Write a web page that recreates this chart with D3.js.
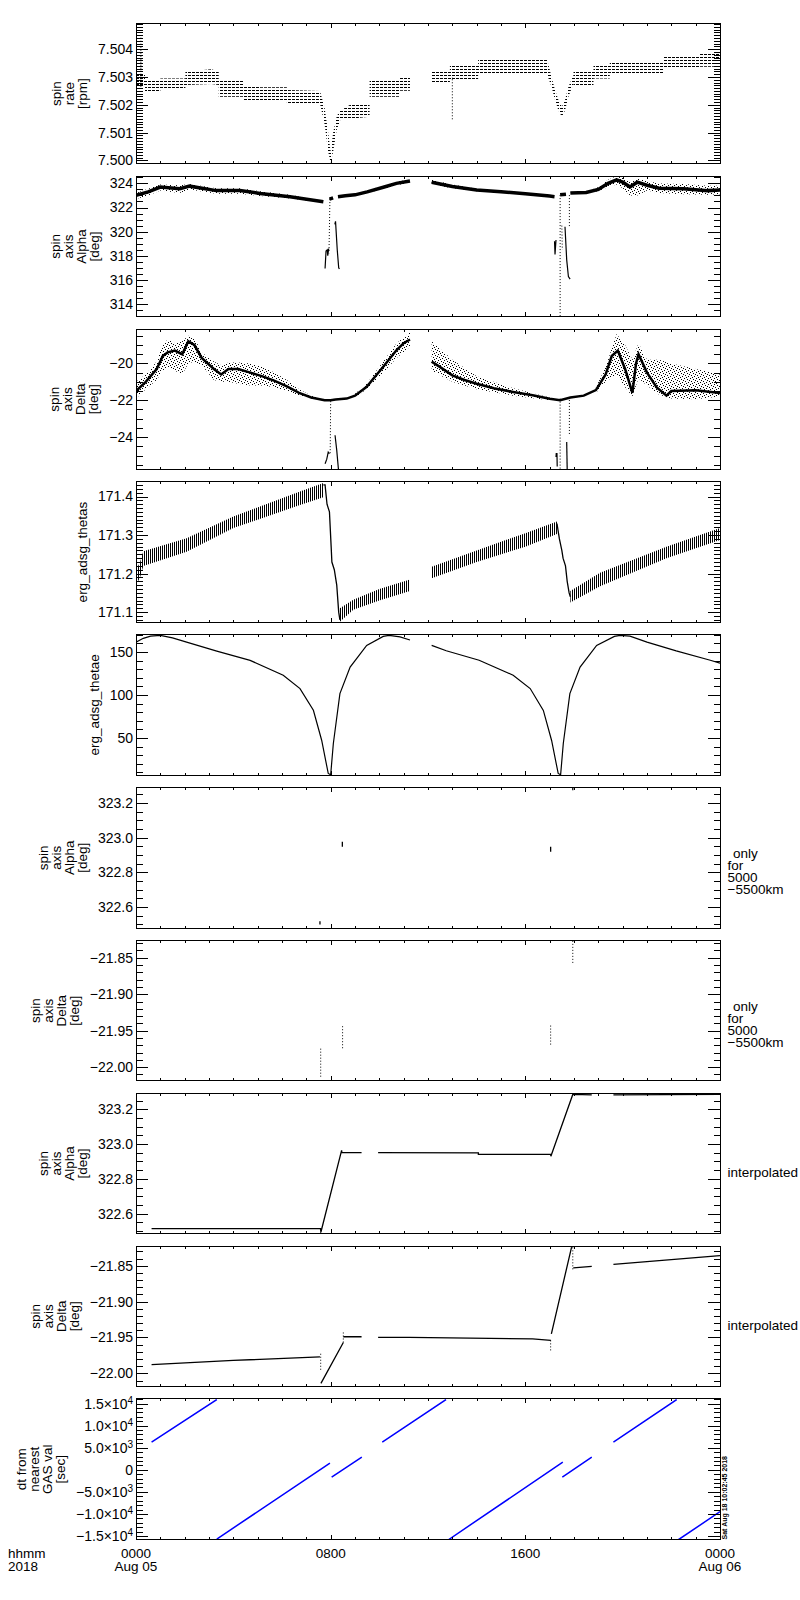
<!DOCTYPE html>
<html>
<head>
<meta charset="utf-8">
<script src="https://cdn.jsdelivr.net/npm/d3@7"></script>
<style>
body { margin: 0; background: #fff; }
</style>
</head>
<body>
<script>
// hours from 0000 Aug 05 2018
var hourTicks = d3.range(0, 25);
var majorHours = [0, 8, 16, 24];
var timeLabelTop = ["0000", "0800", "1600", "0000"];
var timeLabelBottom = ["Aug 05", "", "", "Aug 06"];

// panel 1: spin rate, quantized band [t, lo, hi]
var p1Ticks = [7.500, 7.501, 7.502, 7.503, 7.504];
var p1Band = [
  [0.03,7.50265,7.50307],[0.37,7.50265,7.50307],[0.37,7.50247,7.50289],[1.0,7.50247,7.50289],
  [1.0,7.50259,7.50295],[2.03,7.50259,7.50295],[2.03,7.50271,7.50319],[3.1,7.50275,7.50328],
  [3.4,7.50271,7.50319],[3.4,7.50229,7.50289],[4.4,7.50229,7.50289],[4.4,7.50217,7.50271],
  [5.1,7.50217,7.50271],[5.1,7.50217,7.50263],[6.2,7.50217,7.50263],[6.2,7.50205,7.50253],
  [7.56,7.50205,7.50250],[7.75,7.50130,7.50190],[7.9,7.50030,7.50100],[8.0,7.49992,7.50030],
  [8.1,7.50030,7.50100],[8.25,7.50110,7.50160],[8.4,7.50146,7.50180],[8.8,7.50150,7.50200],
  [9.6,7.50157,7.50200],[9.6,7.50229,7.50289],[10.85,7.50229,7.50289],[10.85,7.50251,7.50299],
  [11.26,7.50251,7.50299],[11.26,7.50296,7.50300],[12.15,7.50296,7.50300],[12.15,7.50277,7.50325],
  [12.9,7.50277,7.50325],[12.9,7.50289,7.50343],[14.06,7.50289,7.50343],[14.06,7.50307,7.50361],
  [16.9,7.50307,7.50361],[17.08,7.50264,7.50300],[17.22,7.50217,7.50253],[17.36,7.50180,7.50217],
  [17.5,7.50157,7.50193],[17.63,7.50180,7.50217],[17.77,7.50229,7.50265],[17.98,7.50277,7.50307],
  [17.98,7.50271,7.50319],[18.8,7.50271,7.50319],[18.8,7.50295,7.50343],[19.47,7.50295,7.50343],
  [19.47,7.50307,7.50355],[21.66,7.50307,7.50355],[21.66,7.50331,7.50372],[23.17,7.50331,7.50372],
  [23.17,7.50337,7.50385],[24,7.50337,7.50385]
];
var p1Spikes = [[0.2,7.50265,7.50450],[13.0,7.50148,7.50300]];

// panel 2: spin axis alpha [t, v] core, [t, lo, hi] scatter
var p2Ticks = [314, 316, 318, 320, 322, 324];
var p2Core = [
  [0.0,323.0],[0.5,323.3],[1.0,323.7],[1.8,323.55],[2.2,323.77],[3.3,323.4],[4.27,323.4],[5.1,323.17],
  [6.33,322.9],[7.7,322.48], null, [7.95,322.7],[8.1,322.8], null,
  [8.3,322.9],[8.6,322.98],[9.0,323.05],[9.5,323.3],[10.2,323.7],[10.7,324.0],[11.26,324.2], null,
  [12.15,324.1],[12.5,323.95],[13.0,323.75],[14.0,323.45],[15.0,323.3],[16.0,323.15],[17.0,322.95],[17.2,322.9], null,
  [17.43,323.05],[17.67,323.1], null,
  [17.85,323.2],[18.5,323.25],[19.0,323.5],[19.4,324.0],[19.75,324.3],[20.0,324.1],[20.3,323.7],[20.6,324.1],
  [21.0,323.85],[21.5,323.6],[22.5,323.55],[23.5,323.4],[24,323.45]
];
var p2Scatter = [
  [0.0,322.7,323.2],[0.5,323.0,323.55],[1.0,323.4,323.9],[1.8,323.2,323.85],[2.2,323.5,323.95],
  [3.3,323.15,323.6],[4.27,323.15,323.6],[5.1,322.95,323.35],[6.33,322.75,323.05],[7.7,322.42,322.52], null,
  [8.3,322.88,322.95],[9.0,323.0,323.1],[9.5,323.2,323.4],[10.2,323.55,323.85],[10.7,323.85,324.15],[11.26,324.05,324.3], null,
  [12.15,323.9,324.3],[13.0,323.6,323.9],[14.0,323.35,323.55],[15.0,323.22,323.38],[16.0,323.1,323.2],[17.2,322.88,322.92], null,
  [17.85,323.18,323.22],[18.5,323.2,323.3],[19.0,323.35,323.7],[19.4,323.7,324.3],[19.75,323.9,324.6],[20.0,323.6,324.45],
  [20.3,323.0,324.1],[20.6,323.0,324.4],[21.0,323.4,324.2],[21.5,323.2,324.0],[22.5,323.1,323.95],[23.5,323.05,323.8],[24,323.1,323.8]
];
var p2DipSolid = [
  [[7.77,316.95],[7.81,318.4],[7.86,318.5],[7.88,318.0],[7.92,318.6]],
  [[8.17,320.6],[8.2,320.85],[8.27,318.5],[8.33,317.0],[8.36,316.9]],
  [[17.2,319.2],[17.22,318.1],[17.26,319.3]],
  [[17.63,320.4],[17.7,317.66],[17.77,316.28],[17.84,316.06]]
];
var p2DipDotted = [
  [[7.97,322.7],[7.93,318.2]],
  [[17.43,323.03],[17.43,313.0]],
  [[17.81,323.03],[17.81,320.4]],
  [[17.5,320.5],[17.52,318.5]]
];

// panel 3: spin axis delta
var p3Ticks = [-24, -22, -20];
var p3Core = [
  [0.0,-21.5],[0.4,-21.0],[0.85,-20.3],[1.1,-19.6],[1.3,-19.4],[1.6,-19.3],[1.9,-19.5],[2.15,-18.8],[2.4,-19.0],
  [2.7,-19.7],[3.2,-20.3],[3.5,-20.6],[3.8,-20.3],[4.2,-20.3],[4.7,-20.5],[5.2,-20.7],[5.7,-20.95],[6.2,-21.25],
  [6.7,-21.6],[7.2,-21.85],[7.75,-22.0],[8.0,-22.0],[8.2,-21.96],[8.66,-21.91],[9.0,-21.75],[9.48,-21.27],
  [10.16,-20.18],[10.71,-19.27],[11.0,-18.9],[11.26,-18.7], null,
  [12.15,-19.9],[12.5,-20.2],[13.0,-20.65],[13.5,-20.9],[14.0,-21.1],[14.7,-21.35],[15.5,-21.55],[16.3,-21.73],
  [17.0,-21.92],[17.43,-22.0],[17.85,-21.85],[18.4,-21.75],[18.9,-21.45],[19.3,-20.6],[19.55,-19.6],[19.8,-19.3],
  [20.1,-20.3],[20.4,-21.6],[20.55,-20.0],[20.65,-19.5],[21.0,-20.5],[21.4,-21.3],[21.8,-21.75],[22.0,-21.5],
  [23.0,-21.45],[24.0,-21.6]
];
var p3Scatter = [
  [0.0,-21.9,-21.0],[0.4,-21.4,-20.6],[0.85,-20.9,-19.9],[1.1,-20.4,-19.0],[1.3,-20.2,-18.7],[1.6,-20.4,-18.9],
  [1.9,-20.6,-18.8],[2.15,-20.0,-18.5],[2.4,-19.9,-18.6],[2.7,-20.1,-19.4],[3.2,-20.9,-19.9],[3.5,-21.0,-20.1],
  [3.8,-21.0,-19.95],[4.2,-21.1,-19.95],[4.7,-21.2,-20.0],[5.2,-21.2,-20.2],[5.7,-21.3,-20.5],[6.2,-21.5,-20.9],
  [6.7,-21.75,-21.4],[7.2,-21.9,-21.75],[7.75,-22.05,-21.95], null,
  [9.0,-21.85,-21.65],[9.48,-21.4,-21.1],[10.16,-20.5,-19.9],[10.71,-19.7,-18.9],[11.26,-19.1,-18.3], null,
  [12.15,-20.4,-18.8],[13.0,-21.0,-19.8],[14.0,-21.4,-20.7],[15.5,-21.75,-21.35],[17.0,-22.0,-21.85], null,
  [18.9,-21.6,-21.3],[19.3,-21.0,-20.2],[19.75,-20.6,-18.4],[20.1,-21.3,-19.0],[20.4,-21.8,-19.8],[20.65,-20.8,-18.9],
  [21.0,-21.2,-19.8],[21.5,-21.7,-19.8],[22.0,-21.9,-20.0],[23.0,-21.95,-20.3],[24.0,-21.8,-20.6]
];
var p3DipSolid = [
  [[7.77,-25.45],[7.84,-25.2],[7.9,-24.82],[7.95,-24.9]],
  [[8.18,-23.9],[8.25,-24.72],[8.32,-25.76]],
  [[17.26,-25.08],[17.27,-24.9],[17.3,-24.9],[17.31,-25.6]],
  [[17.7,-24.27],[17.72,-25.76]]
];
var p3DipDotted = [
  [[8.0,-22.05],[7.98,-24.9]],
  [[17.43,-21.91],[17.43,-25.76]],
  [[17.81,-21.82],[17.81,-23.9]]
];

// panel 4: erg_adsg_thetas band [t, lo, hi] and drops
var p4Ticks = [171.1, 171.2, 171.3, 171.4];
var p4Band = [
  [0.0,171.195,171.235],[0.12,171.18,171.22],[0.3,171.22,171.258],[2.08,171.257,171.292],[4.0,171.318,171.348],
  [6.74,171.378,171.413],[7.7,171.398,171.435], null,
  [8.38,171.075,171.11],[8.93,171.106,171.132],[10.0,171.13,171.16],[11.26,171.155,171.185], null,
  [12.15,171.188,171.218],[14.0,171.23,171.26],[16.0,171.27,171.305],[17.3,171.303,171.335], null,
  [17.85,171.125,171.155],[19.07,171.167,171.202],[21.8,171.24,171.27],[24.0,171.287,171.318]
];
var p4Drops = [
  [[7.7,171.43],[7.77,171.43],[7.85,171.38],[7.95,171.36],[8.02,171.27],[8.05,171.23],[8.15,171.21],[8.25,171.17],[8.33,171.1],[8.38,171.08]],
  [[17.3,171.33],[17.4,171.29],[17.5,171.26],[17.55,171.24],[17.65,171.22],[17.72,171.18],[17.8,171.15],[17.85,171.14]]
];

// panel 5: erg_adsg_thetae
var p5Ticks = [50, 100, 150];
var p5Line = [
  [0.0,161.5],[0.3,166],[0.6,168.5],[1.0,169.4],[1.5,166.5],[2.08,161.6],[3.32,151.1],[4.69,140.3],[6.05,122.9],
  [6.74,107.4],[7.29,82.2],[7.63,47.3],[7.9,8.6],[8.0,7.0],[8.11,43.5],[8.38,101.6],[8.8,132.5],[9.48,157.8],
  [10.16,168.2],[10.4,169.4],[10.85,167.6],[11.26,164.0], null,
  [12.15,157.8],[12.75,151.5],[14.1,140.5],[15.5,123],[16.2,107.5],[16.74,82],[17.08,47],[17.35,8.6],[17.45,7.0],
  [17.56,43.5],[17.83,101.6],[18.25,132.5],[18.93,157.8],[19.66,168.2],[19.9,169.4],[20.3,168.5],[21.0,161.6],
  [22.2,151.3],[23.6,140.5],[24.0,137]
];

// panels 6,7: only for 5000-5500km [t, lo, hi]
var p6Ticks = [322.6, 322.8, 323.0, 323.2];
var p6Bits = [[7.56,322.499,322.518],[8.48,322.949,322.977],[17.04,322.92,322.949],[17.95,323.275,323.29]];
var p7Ticks = [-22.00, -21.95, -21.90, -21.85];
var p7Bits = [[7.59,-22.013,-21.972],[8.49,-21.974,-21.943],[17.04,-21.969,-21.942],[17.95,-21.857,-21.827]];

// panels 8,9: interpolated
var p8Line = [
  [0.64,322.514],[7.58,322.514],[7.6,322.495],[8.45,322.964],[8.46,322.951],[9.27,322.951], null,
  [9.95,322.951],[14.07,322.949],[14.07,322.941],[17.04,322.941],[17.05,322.93],[17.95,323.285],[18.73,323.283], null,
  [19.62,323.283],[24,323.285]
];
var p8Bits = [[7.59,322.49,322.52]];
var p9Line = [
  [0.64,-21.988],[4.0,-21.982],[7.56,-21.977], null,
  [7.6,-22.014],[8.52,-21.957], null, [8.52,-21.949],[9.27,-21.949], null,
  [9.95,-21.950],[11.23,-21.950],[13.73,-21.951],[16.3,-21.952],[17.05,-21.954], null,
  [17.07,-21.945],[17.9,-21.824], null, [17.97,-21.853],[18.73,-21.851], null,
  [19.62,-21.848],[24,-21.836]
];
var p9Bits = [[7.59,-21.995,-21.972],[8.52,-21.957,-21.943],[17.04,-21.968,-21.954],[17.95,-21.855,-21.824]];

// panel 10: dt from nearest GAS val [sec]
var p10Ticks = [-15000, -10000, -5000, 0, 5000, 10000, 15000];
var p10Mant = ["\u22121.5", "\u22121.0", "\u22125.0", "0", "5.0", "1.0", "1.5"];
var p10Exp = ["4", "4", "3", "", "3", "4", "4"];
var p10Line = [
  [0.64,6273],[3.32,15909], null, [3.32,-15682],[7.97,1500], null, [8.04,-1682],[9.28,2864], null,
  [10.12,6273],[12.74,15909], null, [12.84,-15840],[17.54,1727], null, [17.52,-1682],[18.73,2864], null,
  [19.62,6273],[22.22,15909], null, [22.29,-15840],[24,-9477]
];

var FONT = "'Liberation Sans', Arial, sans-serif";
var W = 800, H = 1600;
var left = 136, right = 720, top0 = 23.3, step = 152.85, ph = 140.5;

var svg = d3.select("body").append("svg")
  .attr("width", W).attr("height", H)
  .attr("font-family", FONT);
svg.append("rect").attr("width", W).attr("height", H).attr("fill", "#fff");

var defs = svg.append("defs");
var hd = defs.append("pattern").attr("id", "hdash").attr("patternUnits", "userSpaceOnUse")
  .attr("width", 4).attr("height", 3);
hd.append("rect").attr("width", 3).attr("height", 1).attr("fill", "#000");
var sp = defs.append("pattern").attr("id", "speckle").attr("patternUnits", "userSpaceOnUse")
  .attr("width", 6).attr("height", 6);
[[0,0],[3,1],[1,3],[4,4],[5,2],[2,5]].forEach(function(p){
  sp.append("rect").attr("x", p[0]).attr("y", p[1]).attr("width", 1).attr("height", 1).attr("fill", "#000");
});
var vh = defs.append("pattern").attr("id", "vhatch").attr("patternUnits", "userSpaceOnUse")
  .attr("width", 2).attr("height", 4);
vh.append("rect").attr("width", 1).attr("height", 4).attr("fill", "#000");

var x = d3.scaleLinear().domain([0, 24]).range([left, right]);

function lineOf(y){
  return d3.line().defined(function(d){ return d !== null; })
    .x(function(d){ return x(d[0]); }).y(function(d){ return y(d[1]); });
}
function areaOf(y){
  return d3.area().defined(function(d){ return d !== null; })
    .x(function(d){ return x(d[0]); })
    .y0(function(d){ return y(d[1]); }).y1(function(d){ return y(d[2]); });
}
function styleAxis(sel){
  sel.attr("font-family", FONT).attr("font-size", 14);
  sel.select(".domain").remove();
  sel.selectAll("line").attr("shape-rendering", "crispEdges");
}

// builds frame, ticks and title of one panel
function panel(i, domain, major, minorStep, fmt, title){
  var top = top0 + i * step, bottom = top + ph;
  var y = d3.scaleLinear().domain(domain).range([bottom, top]);
  var g = svg.append("g");
  var minor = d3.range(Math.ceil(domain[0] / minorStep - 1e-6), Math.floor(domain[1] / minorStep + 1e-6) + 1)
    .map(function(k){ return k * minorStep; });

  defs.append("clipPath").attr("id", "clip" + i).append("rect")
    .attr("x", left).attr("y", top).attr("width", right - left).attr("height", ph);
  var plot = g.append("g").attr("clip-path", "url(#clip" + i + ")");

  var la = g.append("g").attr("transform", "translate(" + left + ",0)")
    .call(d3.axisLeft(y).tickValues(major).tickSizeInner(-12).tickSizeOuter(0).tickPadding(3).tickFormat(fmt));
  styleAxis(la);
  var lm = g.append("g").attr("transform", "translate(" + left + ",0)")
    .call(d3.axisLeft(y).tickValues(minor).tickSizeInner(-6.5).tickSizeOuter(0).tickFormat(""));
  styleAxis(lm);
  var ra = g.append("g").attr("transform", "translate(" + right + ",0)")
    .call(d3.axisRight(y).tickValues(major).tickSizeInner(-12).tickSizeOuter(0).tickFormat(""));
  styleAxis(ra);
  var rm = g.append("g").attr("transform", "translate(" + right + ",0)")
    .call(d3.axisRight(y).tickValues(minor).tickSizeInner(-6.5).tickSizeOuter(0).tickFormat(""));
  styleAxis(rm);
  [[top, d3.axisTop], [bottom, d3.axisBottom]].forEach(function(a){
    var t1 = g.append("g").attr("transform", "translate(0," + a[0] + ")")
      .call(a[1](x).tickValues(hourTicks).tickSizeInner(-2.5).tickSizeOuter(0).tickFormat(""));
    styleAxis(t1);
    var t2 = g.append("g").attr("transform", "translate(0," + a[0] + ")")
      .call(a[1](x).tickValues(majorHours).tickSizeInner(-4.5).tickSizeOuter(0).tickFormat(""));
    styleAxis(t2);
  });
  g.append("rect").attr("x", left).attr("y", top).attr("width", right - left).attr("height", ph)
    .attr("fill", "none").attr("stroke", "#000").attr("stroke-width", 1).attr("shape-rendering", "crispEdges");

  return {g: g, plot: plot, y: y, top: top, bottom: bottom, mid: (top + bottom) / 2, leftAxis: la, title: title};
}

// stacked, rotated axis title just left of the tick labels
function addTitle(p){
  var bb = p.leftAxis.node().getBBox();
  var xr = left + bb.x - 11, n = p.title.length;
  p.title.forEach(function(s, j){
    p.g.append("text")
      .attr("transform", "translate(" + (xr - (n - 1 - j) * 13) + "," + p.mid + ") rotate(-90)")
      .attr("text-anchor", "middle").attr("font-size", 13.5).text(s);
  });
}

function drawBits(p, bits, dash, width){
  p.plot.selectAll(null).data(bits).enter().append("line")
    .attr("x1", function(d){ return x(d[0]); }).attr("x2", function(d){ return x(d[0]); })
    .attr("y1", function(d){ return p.y(d[1]); }).attr("y2", function(d){ return p.y(d[2]); })
    .attr("stroke", "#000").attr("stroke-width", width).attr("stroke-dasharray", dash);
}
function drawPolys(p, polys, width, dash){
  p.plot.selectAll(null).data(polys).enter().append("path")
    .attr("d", lineOf(p.y)).attr("fill", "none").attr("stroke", "#000")
    .attr("stroke-width", width).attr("stroke-dasharray", dash);
}
function rightNote(p, lines, dy){
  lines.forEach(function(s, j){
    p.g.append("text").attr("x", j === 0 && lines.length > 1 ? right + 13 : right + 7.5)
      .attr("y", p.mid + dy + j * 12).attr("font-size", 13.5).text(s);
  });
}

var fmtAlpha = d3.format(".1f"), fmtDelta = d3.format(".2f");

// 1 spin rate
var P1 = panel(0, [7.49988, 7.50493], p1Ticks, 0.0001, d3.format(".3f"), ["spin", "rate", "[rpm]"]);
P1.plot.append("path").datum(p1Band).attr("d", areaOf(P1.y)).attr("fill", "url(#hdash)");
drawBits(P1, p1Spikes, "1,2", 1);
addTitle(P1);

// 2 alpha
var P2 = panel(1, [312.95, 324.6], p2Ticks, 0.5, d3.format("d"), ["spin", "axis", "Alpha", "[deg]"]);
P2.plot.append("path").datum(p2Scatter).attr("d", areaOf(P2.y)).attr("fill", "url(#speckle)");
P2.plot.append("path").datum(p2Core).attr("d", lineOf(P2.y)).attr("fill", "none").attr("stroke", "#000").attr("stroke-width", 3.5);
drawPolys(P2, p2DipSolid, 1.2, null);
drawPolys(P2, p2DipDotted, 1, "1,2");
addTitle(P2);

// 3 delta
var P3 = panel(2, [-25.76, -18.13], p3Ticks, 0.5, d3.format("d"), ["spin", "axis", "Delta", "[deg]"]);
P3.plot.append("path").datum(p3Scatter).attr("d", areaOf(P3.y)).attr("fill", "url(#speckle)");
P3.plot.append("path").datum(p3Core).attr("d", lineOf(P3.y)).attr("fill", "none").attr("stroke", "#000").attr("stroke-width", 2.5);
drawPolys(P3, p3DipSolid, 1.2, null);
drawPolys(P3, p3DipDotted, 1, "1,2");
addTitle(P3);

// 4 thetas
var P4 = panel(3, [171.0736, 171.438], p4Ticks, 0.01, d3.format(".1f"), ["erg_adsg_thetas"]);
P4.plot.append("path").datum(p4Band).attr("d", areaOf(P4.y)).attr("fill", "url(#vhatch)");
drawPolys(P4, p4Drops, 1.3, null);
addTitle(P4);

// 5 thetae
var P5 = panel(4, [6.6, 170.2], p5Ticks, 10, d3.format("d"), ["erg_adsg_thetae"]);
P5.plot.append("path").datum(p5Line).attr("d", lineOf(P5.y)).attr("fill", "none").attr("stroke", "#000").attr("stroke-width", 1.2);
addTitle(P5);

// 6 alpha (5000-5500 km)
var P6 = panel(5, [322.479, 323.29], p6Ticks, 0.05, fmtAlpha, ["spin", "axis", "Alpha", "[deg]"]);
drawBits(P6, p6Bits, null, 1.3);
addTitle(P6);
rightNote(P6, ["only", "for", "5000", "\u22125500km"], 0);

// 7 delta (5000-5500 km)
var P7 = panel(6, [-22.0188, -21.8262], p7Ticks, 0.01, fmtDelta, ["spin", "axis", "Delta", "[deg]"]);
drawBits(P7, p7Bits, "1,2", 1);
addTitle(P7);
rightNote(P7, ["only", "for", "5000", "\u22125500km"], 0);

// 8 alpha interpolated
var P8 = panel(7, [322.485, 323.292], p6Ticks, 0.05, fmtAlpha, ["spin", "axis", "Alpha", "[deg]"]);
P8.plot.append("path").datum(p8Line).attr("d", lineOf(P8.y)).attr("fill", "none").attr("stroke", "#000").attr("stroke-width", 1.3);
drawBits(P8, p8Bits, "1,2", 1);
addTitle(P8);
rightNote(P8, ["interpolated"], 13.5);

// 9 delta interpolated
var P9 = panel(8, [-22.0185, -21.8226], p7Ticks, 0.01, fmtDelta, ["spin", "axis", "Delta", "[deg]"]);
P9.plot.append("path").datum(p9Line).attr("d", lineOf(P9.y)).attr("fill", "none").attr("stroke", "#000").attr("stroke-width", 1.3);
drawBits(P9, p9Bits, "1,2", 1);
addTitle(P9);
rightNote(P9, ["interpolated"], 13.5);

// 10 dt from nearest GAS val
var P10 = panel(9, [-15773, 16045], p10Ticks, 1000, function(){ return ""; }, ["dt from", "nearest", "GAS val", "[sec]"]);
P10.leftAxis.selectAll(".tick text").each(function(d, k){
  var t = d3.select(this);
  t.append("tspan").text(p10Mant[k] + (p10Exp[k] ? "\u00d710" : ""));
  if (p10Exp[k]) t.append("tspan").attr("dy", "-0.5em").attr("font-size", 10).text(p10Exp[k]);
});
P10.plot.append("path").datum(p10Line).attr("d", lineOf(P10.y)).attr("fill", "none").attr("stroke", "#0000ff").attr("stroke-width", 1.5);
addTitle(P10);

// time labels under the last panel
var lab = svg.append("g").attr("font-size", 13.5).attr("text-anchor", "middle");
majorHours.forEach(function(h, k){
  lab.append("text").attr("x", x(h)).attr("y", P10.bottom + 18.5).text(timeLabelTop[k]);
  lab.append("text").attr("x", x(h)).attr("y", P10.bottom + 31.5).text(timeLabelBottom[k]);
});
svg.append("text").attr("x", 8).attr("y", P10.bottom + 18.5).attr("font-size", 13.5).text("hhmm");
svg.append("text").attr("x", 8).attr("y", P10.bottom + 31.5).attr("font-size", 13.5).text("2018");

// creation stamp
svg.append("text").attr("transform", "translate(727," + P10.bottom + ") rotate(-90)")
  .attr("font-size", 7).attr("font-weight", "bold").text("Sat Aug 18 10:02:45 2018");
</script>
</body>
</html>
